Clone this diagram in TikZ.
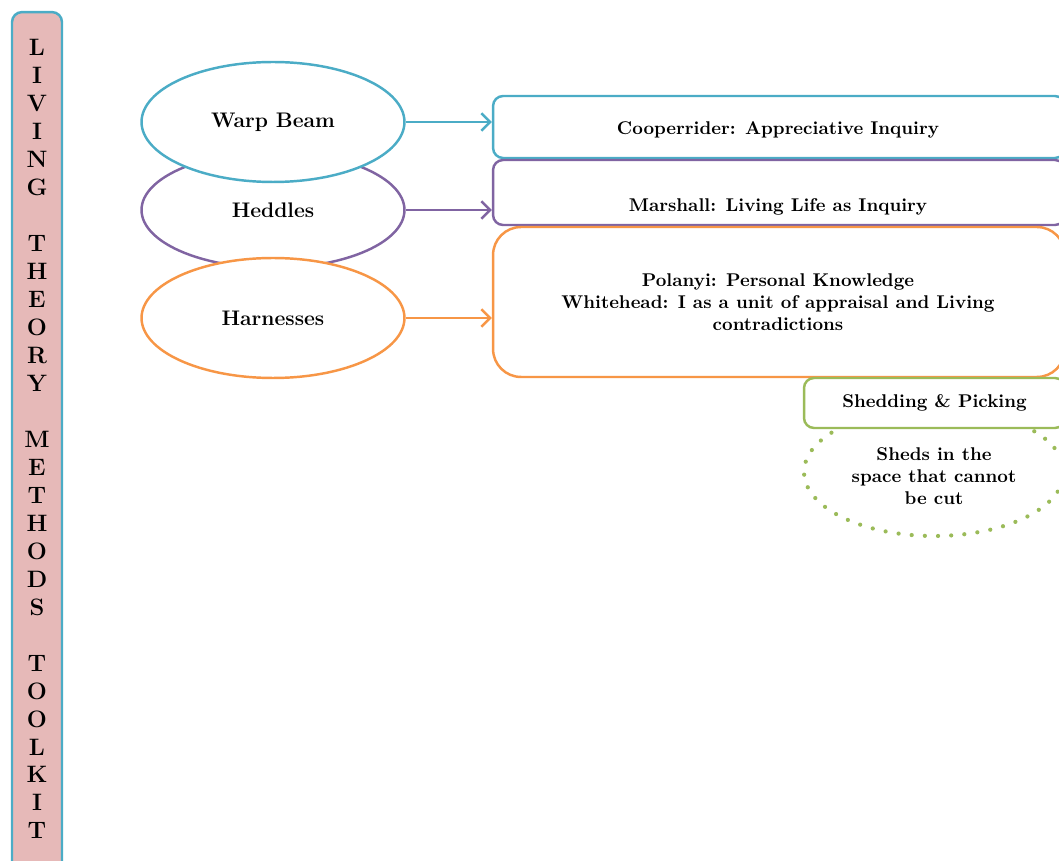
\documentclass[tikz,border=0pt]{standalone}
\usepackage{tikz}
\usetikzlibrary{shapes,arrows.meta,positioning}

\definecolor{Aqua}{HTML}{4BACC6}
\definecolor{Plum}{HTML}{8064A2}
\definecolor{Tang}{HTML}{F79646}
\definecolor{Lime}{HTML}{9BBB59}
\definecolor{Rose}{HTML}{E6B9B8}

\begin{document}
\begin{tikzpicture}[x=0.02cm, y=-0.02cm]
			\tikzstyle{Oval}	= [ellipse, draw, line width=1.4pt, fill=white, minimum width=5.26cm, minimum height=2.4cm, inner sep=0pt, font=\fontsize{12}{14}\bfseries]
			\tikzstyle{Box}		= [rectangle, draw, line width=1.4pt, rounded corners=0.2cm, fill=white, minimum width=11.44cm, inner sep=0pt]
			\tikzstyle{Txt}		= [align=center, font=\fontsize{10.5}{12.6}\bfseries]
			\tikzstyle{Link}	= [line width=1.4pt, -{Straight Barb[length=5pt,width=10pt]}]

			\useasboundingbox (0,0) rectangle (1059,861);
			\clip (0,0) rectangle (1059,861);

			% side bar
			\node (bar) at (37,456) [rectangle, draw=Aqua, fill=Rose, line width=1.4pt, rounded corners=0.2cm, minimum width=1cm, minimum height=17.76cm, inner sep=0pt] {};
			\node (barT) at (37,439) [align=center, font=\fontsize{13.5}{15.93}\bfseries]
				{L\\I\\V\\I\\N\\G\\~\\T\\H\\E\\O\\R\\Y\\~\\M\\E\\T\\H\\O\\D\\S\\~\\T\\O\\O\\L\\K\\I\\T};

			% ovals
			\node (heddles) at (273,210) [Oval, draw=Plum, minimum height=2.32cm] {Heddles};
			\node (warp) at (273,122) [Oval, draw=Aqua] {Warp Beam};
			\node (harness) at (273,318) [Oval, draw=Tang] {Harnesses};

			% boxes
			\node (coop) at (779,127) [Box, draw=Aqua, minimum height=1.24cm] {};
			\node (marsh) at (779,192.5) [Box, draw=Plum, minimum height=1.3cm] {};
			\node (polan) at (779,302) [Box, draw=Tang, minimum height=3cm, rounded corners=0.56cm] {};
			\node (sheds) at (934,472) [ellipse, draw=Lime, line width=2.4pt, dash pattern=on 0pt off 7.5pt, line cap=round, minimum width=5.2cm, minimum height=2.56cm, inner sep=0pt] {};
			\node (shed) at (934.5,403) [Box, draw=Lime, minimum width=5.22cm, minimum height=1cm, Txt] {Shedding \& Picking};

			\node (coopT) at (778,130) [Txt] {Cooperrider: Appreciative Inquiry};
			\node (marshT) at (778,207) [Txt] {Marshall: Living Life as Inquiry};
			\node (polanT) at (778,302) [Txt] {Polanyi: Personal Knowledge\\Whitehead: I as a unit of appraisal and Living\\contradictions};
			\node (shedsT) at (934,476) [Txt] {Sheds in the\\space that cannot\\be cut};

			% links
			\draw [Link, Aqua] (warp.east) to (warp.east -| coop.west);
			\draw [Link, Plum] (heddles.east) to (heddles.east -| marsh.west);
			\draw [Link, Tang] (harness.east) to (harness.east -| polan.west);
		\end{tikzpicture}
\end{document}
